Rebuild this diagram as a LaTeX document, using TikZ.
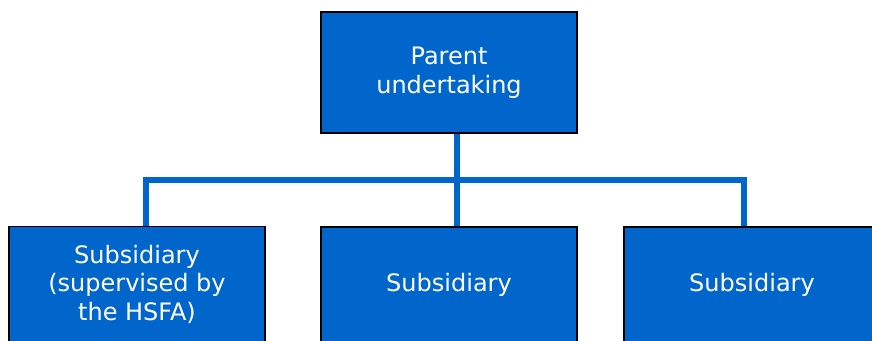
\documentclass[tikz,border=0pt]{standalone}
\usepackage{fontspec}
\setmainfont{DejaVu Sans}
\definecolor{boxblue}{HTML}{0066CC}
\definecolor{lineblue}{HTML}{0066CC}
\begin{document}
\begin{tikzpicture}[x=1pt,y=-1pt,
  orgbox/.style={draw=black,line width=1.8pt,fill=boxblue,text=white,
    minimum width=256pt,inner sep=0pt,align=center,
    font=\fontsize{24}{28.5}\selectfont},
  conn/.style={draw=lineblue,line width=5.5pt}]
\useasboundingbox (0,0) rectangle (872,340);
\clip (0,0) rectangle (872,340);
\coordinate (j) at (457,180);
\coordinate (a) at (146,180);
\coordinate (b) at (744,180);
\node[orgbox,minimum height=121pt] (parent) at (449,72.5) {Parent\\undertaking};
\node[orgbox,minimum height=115pt] (left) at (137,284) {Subsidiary\\(supervised by\\the HSFA)};
\node[orgbox,minimum height=115pt] (mid) at (449,284.5) {Subsidiary};
\node[orgbox,minimum height=115pt] (right) at (752,284.5) {Subsidiary};
\draw[conn] (j |- parent.south) -- (j |- mid.north);
\draw[conn] (a |- left.north) -- (a) -- (b) -- (b |- right.north);
\end{tikzpicture}
\end{document}
